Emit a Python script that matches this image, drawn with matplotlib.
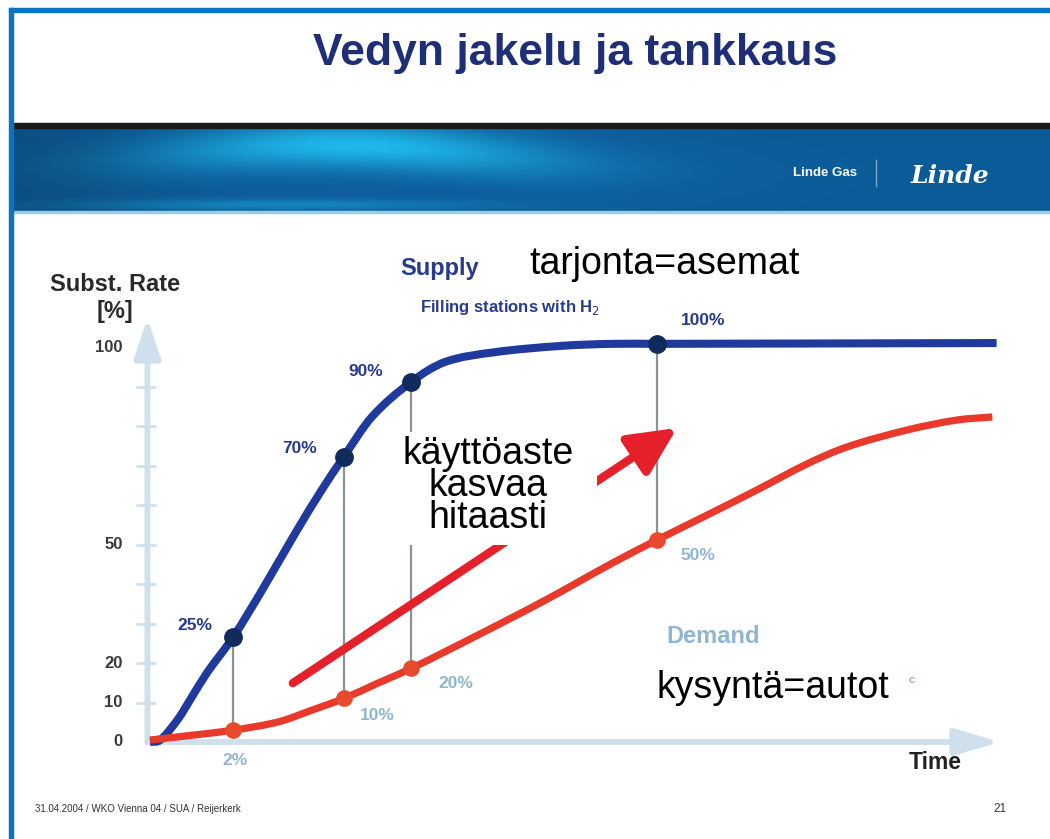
import numpy as np
import matplotlib
matplotlib.use("Agg")
import matplotlib.pyplot as plt
from matplotlib.patches import FancyArrowPatch, Rectangle, PathPatch
from matplotlib.path import Path

plt.rcParams['font.family'] = ['Liberation Sans', 'DejaVu Sans']

# ---------------- data ----------------
supply_t = [0, 1.2, 3.3, 4.7, 6.7, 9.8, 13.2, 17.1, 20.2, 22.8, 26.1, 30.7,
            34.7, 40.6, 48.5, 54.4, 59.6, 99.6]
supply_v = [0, 0.5, 5.8, 10.6, 17.5, 26.6, 38.5, 52.9, 63.8, 72.2, 82.3, 91.1,
            96.2, 98.7, 100.3, 100.8, 100.8, 101.0]

demand_t = [0, 5.3, 9.8, 15.1, 19.1, 22.9, 26.8, 30.8, 38.6, 46.5, 54.4, 59.6,
            65.5, 71.4, 77.3, 82.0, 89.1, 94.9, 99.1]
demand_v = [0.5, 1.8, 3.0, 5.1, 8.1, 11.1, 14.9, 18.7, 27.1, 35.9, 45.3, 51.1,
            57.4, 63.8, 70.4, 74.7, 79.0, 81.5, 82.3]

mark_t = [9.8, 22.8, 30.7, 59.6]
supply_mark_v = [26.6, 72.2, 91.1, 100.8]
demand_mark_v = [3.0, 11.1, 18.7, 51.1]
supply_labels = ["25%", "70%", "90%", "100%"]
demand_labels = ["2%", "10%", "20%", "50%"]

ytick_vals = [0, 10, 20, 50, 100]
ytick_marks = [10, 20, 30, 40, 50, 60, 70, 80, 90]

trend_start = (16.8, 14.9)
trend_end = (62.0, 79.5)

# ---------------- colors ----------------
NAVY = "#263a8e"
BLUE_LINE = "#1f3a9c"
DOT_BLUE = "#102a5c"
RED_LINE = "#e8392b"
DOT_RED = "#e84a2e"
ARROW_RED = "#e5202a"
LIGHT = "#8fb6d1"
AXIS = "#cfe0ec"
GRAY = "#8a9292"


def smooth_path(xs, ys):
    """Cubic Hermite (as Bezier segments) through the given points."""
    x = np.asarray(xs, float)
    y = np.asarray(ys, float)
    n = len(x)
    m = np.zeros(n)
    for i in range(n):
        if i == 0:
            m[i] = (y[1] - y[0]) / (x[1] - x[0])
        elif i == n - 1:
            m[i] = (y[-1] - y[-2]) / (x[-1] - x[-2])
        else:
            m[i] = (y[i + 1] - y[i - 1]) / (x[i + 1] - x[i - 1])
    verts = [(x[0], y[0])]
    codes = [Path.MOVETO]
    for i in range(n - 1):
        h = x[i + 1] - x[i]
        verts += [(x[i] + h / 3, y[i] + m[i] * h / 3),
                  (x[i + 1] - h / 3, y[i + 1] - m[i + 1] * h / 3),
                  (x[i + 1], y[i + 1])]
        codes += [Path.CURVE4] * 3
    return Path(verts, codes)


fig = plt.figure(figsize=(10.5, 8.39), dpi=100)
fig.patch.set_facecolor("white")

# ---------------- slide decoration (pixel coords) ----------------
deco = fig.add_axes([0, 0, 1, 1], zorder=0)
deco.set_xlim(0, 1050)
deco.set_ylim(839, 0)
deco.axis("off")

H, W = 84, 1036
u = np.linspace(0, 1, W)[None, :]
w = np.linspace(0, 1, H)[:, None]
base = np.array([0.05, 0.36, 0.60])
cyan = np.array([0.12, 0.72, 0.92])
center = 0.55 - 0.35 * np.exp(-((u - 0.3) / 0.25) ** 2)
glow = np.exp(-((u - 0.33) / 0.2) ** 2) * np.exp(-((w - center) / 0.28) ** 2)
glow += 0.45 * np.exp(-((u - 0.25) / 0.2) ** 2) * np.exp(-((w - 0.92) / 0.07) ** 2)
glow = np.clip(glow, 0, 1)[..., None]
left_dark = (1 - 0.15 * np.exp(-(u / 0.15) ** 2))[..., None]
img = (base * (1 - glow) + cyan * glow) * left_dark
deco.imshow(img, extent=[14, 1050, 212, 128], aspect="auto", zorder=1)
deco.add_patch(Rectangle((14, 123), 1036, 5, color="#1a1a1a", zorder=2))
deco.add_patch(Rectangle((14, 211), 1036, 2, color="#9ccbe6", zorder=2))

deco.add_patch(Rectangle((9, 8), 1041, 4, color="#0a74bf", zorder=3))
deco.add_patch(Rectangle((9, 8), 4, 831, color="#0a74bf", zorder=3))

deco.text(575, 53, "Vedyn jakelu ja tankkaus", ha="center", va="center",
          fontsize=32, fontweight="bold", color="#1e2f78")
deco.text(825, 173, "Linde Gas", ha="center", va="center", fontsize=9.5,
          fontweight="bold", color="white", zorder=4)
deco.plot([876, 876], [160, 186], color="#7fa6c4", lw=1, zorder=4)
deco.text(950, 176, "Linde", ha="center", va="center", fontsize=18,
          fontweight="bold", fontstyle="italic", family="DejaVu Serif",
          color="white", zorder=4)

deco.text(35, 809, "31.04.2004 / WKO Vienna 04 / SUA / Reijerkerk", ha="left",
          va="center", fontsize=7, color="#333333")
deco.text(1000, 809, "21", ha="center", va="center", fontsize=8.5,
          color="#333333")

# ---------------- chart ----------------
ax = fig.add_axes([150 / 1050, 1 - 742 / 839, 850 / 1050, 395 / 839], zorder=1)
ax.set_xlim(0, 100)
ax.set_ylim(0, 100)
ax.patch.set_alpha(0)
ax.axis("off")

ax.add_patch(FancyArrowPatch((-0.3, 0), (-0.3, 107.3),
                             arrowstyle="-|>,head_length=24,head_width=8",
                             mutation_scale=1, color=AXIS, lw=4.2, shrinkA=0,
                             shrinkB=0, clip_on=False, zorder=1))
ax.add_patch(FancyArrowPatch((-0.3, 0), (100, 0),
                             arrowstyle="-|>,head_length=27,head_width=8",
                             mutation_scale=1, color=AXIS, lw=4.2, shrinkA=0,
                             shrinkB=0, clip_on=False, zorder=1))
ax.hlines(ytick_marks, -1.7, 0.7, color=AXIS, lw=2, clip_on=False, zorder=1)
for v in ytick_vals:
    ax.text(-3.2, v, str(v), ha="right", va="center", fontsize=12,
            fontweight="bold", color="#3a3a3a", clip_on=False)
ax.text(-4.1, 115.7, "Subst. Rate", ha="center", va="center", fontsize=17,
        fontweight="bold", color="#2a2a2a", clip_on=False)
ax.text(-4.1, 108.9, "[%]", ha="center", va="center", fontsize=17,
        fontweight="bold", color="#2a2a2a", clip_on=False)
ax.text(92.4, -5.1, "Time", ha="center", va="center", fontsize=16.5,
        fontweight="bold", color="#222222", clip_on=False)

ax.vlines(mark_t, demand_mark_v, supply_mark_v, color=GRAY, lw=1.6, zorder=2)

ax.add_patch(FancyArrowPatch(trend_start, trend_end,
                             arrowstyle="-|>,head_length=29,head_width=14",
                             mutation_scale=1, color=ARROW_RED, lw=6,
                             shrinkA=0, shrinkB=0, clip_on=False, zorder=3))

ax.add_patch(PathPatch(smooth_path(supply_t, supply_v), facecolor="none",
                       edgecolor=BLUE_LINE, lw=5.8, capstyle="butt",
                       clip_on=False, zorder=4))
ax.add_patch(PathPatch(smooth_path(demand_t, demand_v), facecolor="none",
                       edgecolor=RED_LINE, lw=5.2, capstyle="butt",
                       clip_on=False, zorder=4))
ax.plot(mark_t, supply_mark_v, "o", color=DOT_BLUE, ms=12.5, clip_on=False, zorder=5)
ax.plot(mark_t, demand_mark_v, "o", color=DOT_RED, ms=11, clip_on=False, zorder=5)

ax.add_patch(Rectangle((28.8, 49.9), 23.8, 28.6, facecolor="white",
                       edgecolor="none", zorder=6))
ax.text(39.8, 64.8, "käyttöaste\nkasvaa\nhitaasti", ha="center", va="center",
        fontsize=27, linespacing=0.85, color="black", zorder=7)

sup_pos = [(5.3, 29.4), (17.6, 74.2), (25.4, 93.9), (65.1, 106.6)]
dem_pos = [(10.0, -4.6), (26.8, 6.6), (36.0, 14.9), (64.5, 47.1)]
for (x, y), s in zip(sup_pos, supply_labels):
    ax.text(x, y, s, ha="center", va="center", fontsize=12.5, fontweight="bold",
            color=NAVY, clip_on=False)
for (x, y), s in zip(dem_pos, demand_labels):
    ax.text(x, y, s, ha="center", va="center", fontsize=12.5, fontweight="bold",
            color=LIGHT, clip_on=False)

ax.text(34.1, 120.0, "Supply", ha="center", va="center", fontsize=17,
        fontweight="bold", color=NAVY, clip_on=False)
ax.text(42.4, 109.9, "Filling stations with H$_2$", ha="center", va="center",
        fontsize=12, fontweight="bold", color=NAVY, clip_on=False)
ax.text(60.5, 121.0, "tarjonta=asemat", ha="center", va="center", fontsize=27,
        color="black", clip_on=False)
ax.text(66.2, 26.6, "Demand", ha="center", va="center", fontsize=17,
        fontweight="bold", color=LIGHT, clip_on=False)
ax.text(73.3, 13.7, "kysyntä=autot", ha="center", va="center", fontsize=27,
        color="black", clip_on=False)
ax.text(89.6, 15.7, "c", ha="center", va="center", fontsize=8,
        fontweight="bold", color=LIGHT, clip_on=False)

fig.savefig("out.png", dpi=100)
